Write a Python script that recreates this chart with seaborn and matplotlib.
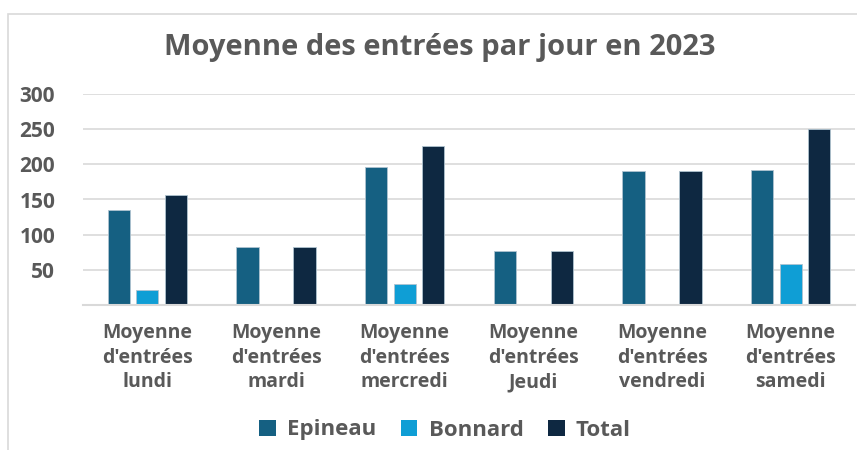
import numpy as np
import pandas as pd
import matplotlib
matplotlib.use("Agg")
import matplotlib.pyplot as plt
import seaborn as sns
from matplotlib.patches import Rectangle

categories = ["Moyenne\nd'entrées\nlundi", "Moyenne\nd'entrées\nmardi", "Moyenne\nd'entrées\nmercredi",
              "Moyenne\nd'entrées\nJeudi", "Moyenne\nd'entrées\nvendredi", "Moyenne\nd'entrées\nsamedi"]
epineau = [135, 83, 196, 77, 190, 192]
bonnard = [22, np.nan, 30, np.nan, np.nan, 58]
total = [157, 83, 226, 77, 190, 250]
series = ["Epineau", "Bonnard", "Total"]
colors = ["#156082", "#0F9ED5", "#0E2841"]
yticks = [50, 100, 150, 200, 250, 300]

rows = []
for name, vals in zip(series, [epineau, bonnard, total]):
    for c, v in zip(categories, vals):
        rows.append({"cat": c, "serie": name, "val": v})
df = pd.DataFrame(rows)

sns.set_theme(style="white")
plt.rcParams["font.family"] = ["Open Sans", "DejaVu Sans"]
text_col = "#595959"

fig = plt.figure(figsize=(8.57, 4.5), dpi=100)
ax = fig.add_axes([83/857, 1 - 305/450, 772/857, 211/450])

sns.barplot(data=df, x="cat", y="val", hue="serie", hue_order=series,
            order=categories, palette=colors, width=0.665, gap=0.22,
            saturation=1, ax=ax, legend=True, edgecolor="#AFC3D0", linewidth=0.6)

ax.set_ylim(0, 300)
ax.set_xlim(-0.5, 5.5)
ax.set_yticks(yticks)
ax.set_yticklabels([str(t) for t in yticks], fontsize=15, fontweight="bold", color=text_col)
ax.tick_params(axis="y", length=0, pad=20)
ax.tick_params(axis="x", length=0, pad=13)
for lab in ax.get_xticklabels():
    lab.set_fontsize(14)
    lab.set_fontweight("bold")
    lab.set_color(text_col)
    lab.set_linespacing(1.3)
ax.set_xlabel("")
ax.set_ylabel("")
ax.grid(axis="y", color="#D9D9D9", linewidth=1.2)
ax.set_axisbelow(True)
for s in ["top", "right", "left"]:
    ax.spines[s].set_visible(False)
ax.spines["bottom"].set_color("#D9D9D9")
ax.spines["bottom"].set_linewidth(1.5)

handles, labels = ax.get_legend_handles_labels()
for h in handles:
    h.set_edgecolor("none")
ax.legend_.remove()
fig.legend(handles, labels, loc="center", bbox_to_anchor=(445/857, 1 - 430/450), ncol=3,
           frameon=False, prop={"size": 16, "weight": "bold"}, labelcolor=text_col,
           handlelength=0.75, handleheight=0.75, handletextpad=0.5, columnspacing=1.1)

fig.text(440/857, 1 - 47/450, "Moyenne des entrées par jour en 2023", ha="center", va="center",
         fontsize=21, fontweight="bold", color=text_col)

fig.patches.append(Rectangle((8/857, -0.01), 1.0, 1 - 14/450 + 0.01, transform=fig.transFigure,
                             fill=False, edgecolor="#D9D9D9", linewidth=1.2))

fig.savefig("out.png", dpi=100)
